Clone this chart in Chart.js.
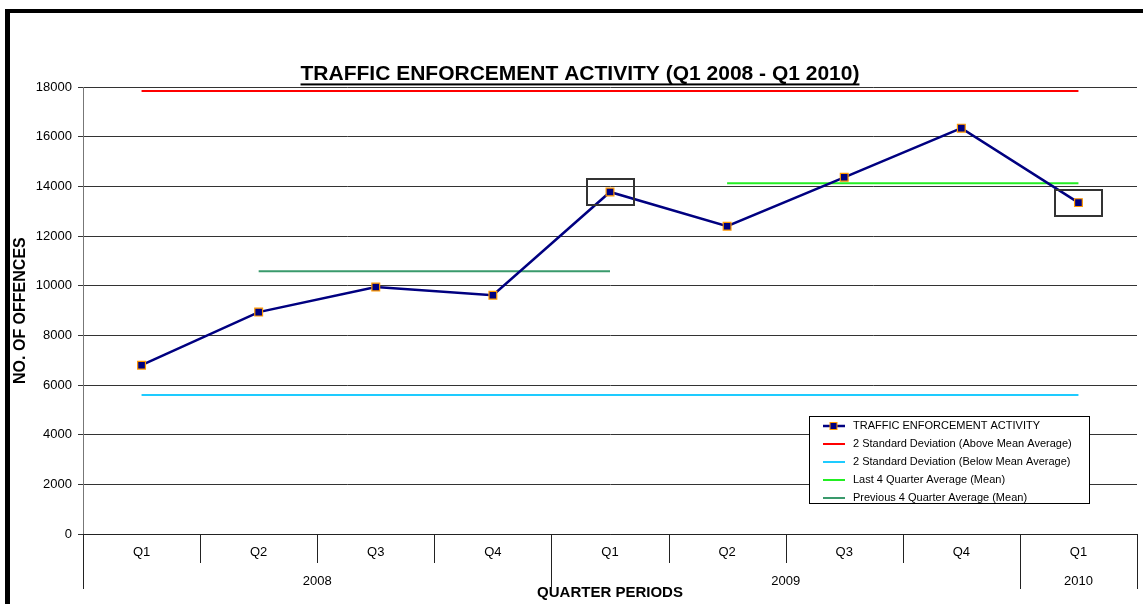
<!DOCTYPE html>
<html>
<head>
<meta charset="utf-8">
<script src="https://cdn.jsdelivr.net/npm/chart.js@4.4.0/dist/chart.umd.min.js"></script>
<style>
  html, body { margin: 0; padding: 0; background: #fff; overflow: hidden; }
  #wrap { position: relative; width: 1143px; height: 604px; overflow: hidden; background: #fff; }
  #chart { position: absolute; left: 0; top: 0; }
  #frame { position: absolute; left: 5px; top: 9px; width: 1200px; height: 700px;
           border-left: 5px solid #000; border-top: 4px solid #000; pointer-events: none; }
</style>
</head>
<body>
<div id="wrap">
  <canvas id="chart" width="1160" height="604"></canvas>
  <div id="frame"></div>
</div>
<script>
// x axis: quarter labels and the year each quarter falls in
const quarters = ['Q1', 'Q2', 'Q3', 'Q4', 'Q1', 'Q2', 'Q3', 'Q4', 'Q1'];
const years = ['2008', '2008', '2008', '2008', '2009', '2009', '2009', '2009', '2010'];

// offences recorded per quarter
const offences = [6800, 8940, 9950, 9620, 13780, 12400, 14370, 16350, 13350];

// reference lines
const upperLimit = [17850, 17850, 17850, 17850, 17850, 17850, 17850, 17850, 17850];
const lowerLimit = [5600, 5600, 5600, 5600, 5600, 5600, 5600, 5600, 5600];
const lastFourAvg = [null, null, null, null, null, 14130, 14130, 14130, 14130];
const prevFourAvg = [null, 10590, 10590, 10590, 10590, null, null, null, null];

// quarters picked out with a box
const boxedPoints = [4, 8];

// y axis ticks
const yMin = 0;
const yMax = 18000;
const yStep = 2000;

const FONT = '"Liberation Sans", Arial, sans-serif';
Chart.defaults.font.family = FONT;
Chart.defaults.color = '#000';

// centre the title on the outer frame and underline it
const titleUnderline = {
  id: 'titleUnderline',
  afterLayout(chart) {
    const t = chart.titleBlock;
    t.left += 23;
    t.width -= 23;
  },
  afterDraw(chart) {
    const t = chart.titleBlock;
    const opts = chart.options.plugins.title;
    const ctx = chart.ctx;
    ctx.save();
    ctx.font = 'bold ' + opts.font.size + 'px ' + FONT;
    const w = ctx.measureText(opts.text).width;
    const cx = (t.left + t.right) / 2;
    const cy = t.top + opts.padding.top + opts.font.size * 1.2 / 2;
    ctx.fillStyle = '#000';
    ctx.fillRect(cx - w / 2, cy + opts.font.size * 0.42, w, 2);
    ctx.restore();
  }
};

// two level category axis: quarter separators and year groups
const axisGroups = {
  id: 'axisGroups',
  afterDraw(chart) {
    const x = chart.scales.x;
    const ctx = chart.ctx;
    ctx.save();
    ctx.strokeStyle = '#222';
    ctx.lineWidth = 1;
    for (let i = 0; i <= quarters.length; i++) {
      const px = Math.round(x.getPixelForValue(i - 0.5)) + 0.5;
      const edge = i === 0 || i === quarters.length || years[i] !== years[i - 1];
      ctx.beginPath();
      ctx.moveTo(px, x.top);
      ctx.lineTo(px, x.top + (edge ? 55 : 29));
      ctx.stroke();
    }
    ctx.fillStyle = '#000';
    ctx.font = '13px ' + FONT;
    ctx.textAlign = 'center';
    ctx.textBaseline = 'middle';
    let start = 0;
    for (let i = 1; i <= years.length; i++) {
      if (i === years.length || years[i] !== years[start]) {
        const cx = (x.getPixelForValue(start - 0.5) + x.getPixelForValue(i - 0.5)) / 2;
        ctx.fillText(years[start], cx, x.top + 47);
        start = i;
      }
    }
    ctx.restore();
  }
};

// boxes round the highlighted quarters
const pointBoxes = {
  id: 'pointBoxes',
  afterDatasetsDraw(chart) {
    const meta = chart.getDatasetMeta(0);
    const ctx = chart.ctx;
    ctx.save();
    ctx.strokeStyle = '#333';
    ctx.lineWidth = 2;
    boxedPoints.forEach(i => {
      const p = meta.data[i];
      ctx.strokeRect(Math.round(p.x) - 23, Math.round(p.y) - 13, 47, 26);
    });
    ctx.restore();
  }
};

// legend box inside the plot, bottom right
const boxLegend = {
  id: 'boxLegend',
  afterDraw(chart) {
    const a = chart.chartArea;
    const ctx = chart.ctx;
    const w = 280, h = 87;
    const left = a.right - 48 - w;
    const top = a.bottom - 31 - h;
    ctx.save();
    ctx.fillStyle = '#fff';
    ctx.fillRect(left, top, w, h);
    ctx.strokeStyle = '#000';
    ctx.lineWidth = 1;
    ctx.strokeRect(left + 0.5, top + 0.5, w, h);
    ctx.font = '11px ' + FONT;
    ctx.textBaseline = 'middle';
    chart.data.datasets.forEach((ds, i) => {
      const y = Math.round(top + 9.5 + i * 18);
      ctx.strokeStyle = ds.borderColor;
      ctx.lineWidth = ds.borderWidth;
      ctx.beginPath();
      ctx.moveTo(left + 14, y);
      ctx.lineTo(left + 36, y);
      ctx.stroke();
      if (ds.pointRadius > 0) {
        ctx.fillStyle = ds.pointBackgroundColor;
        ctx.fillRect(left + 21, y - 3.5, 7, 7);
        ctx.strokeStyle = ds.pointBorderColor;
        ctx.lineWidth = 1;
        ctx.strokeRect(left + 21, y - 3.5, 7, 7);
      }
      ctx.fillStyle = '#000';
      ctx.fillText(ds.label, left + 44, y);
    });
    ctx.restore();
  }
};

const flat = { pointRadius: 0, pointHoverRadius: 0, borderWidth: 2, fill: false, tension: 0 };

new Chart(document.getElementById('chart'), {
  type: 'line',
  data: {
    labels: quarters,
    datasets: [
      {
        label: 'TRAFFIC ENFORCEMENT ACTIVITY',
        data: offences,
        borderColor: '#000080',
        borderWidth: 2.5,
        pointStyle: 'rect',
        pointRadius: 5.5,
        pointHoverRadius: 5.5,
        pointBackgroundColor: '#000080',
        pointBorderColor: '#FF9900',
        pointBorderWidth: 1.2,
        tension: 0
      },
      Object.assign({ label: '2 Standard Deviation (Above Mean Average)', data: upperLimit, borderColor: '#FF0000' }, flat),
      Object.assign({ label: '2 Standard Deviation (Below Mean Average)', data: lowerLimit, borderColor: '#1ECBFF' }, flat),
      Object.assign({ label: 'Last 4 Quarter Average (Mean)', data: lastFourAvg, borderColor: '#22EE22' }, flat),
      Object.assign({ label: 'Previous 4 Quarter Average (Mean)', data: prevFourAvg, borderColor: '#3A9A6C' }, flat)
    ]
  },
  options: {
    responsive: false,
    animation: false,
    devicePixelRatio: 1,
    layout: { padding: { left: 0, right: 23, top: 0, bottom: 0 } },
    plugins: {
      legend: { display: false },
      tooltip: { enabled: false },
      title: {
        display: true,
        text: 'TRAFFIC ENFORCEMENT ACTIVITY (Q1 2008 - Q1 2010)',
        color: '#000',
        font: { size: 21, weight: 'bold' },
        padding: { top: 62, bottom: 0 }
      }
    },
    scales: {
      x: {
        offset: true,
        grid: { display: false, drawTicks: false },
        border: { color: '#222', width: 1 },
        ticks: { color: '#000', font: { size: 13 }, padding: 11, maxRotation: 0 },
        title: {
          display: true,
          text: 'QUARTER PERIODS',
          color: '#000',
          font: { size: 15, weight: 'bold' },
          padding: { top: 0, bottom: 2 }
        },
        afterFit(s) { s.height = 70; }
      },
      y: {
        min: yMin,
        max: yMax,
        ticks: { stepSize: yStep, color: '#000', font: { size: 13 }, padding: 6, callback: v => String(v) },
        grid: { color: '#333', lineWidth: 1, tickLength: 5 },
        border: { color: '#777', width: 1 },
        title: {
          display: true,
          text: 'NO. OF OFFENCES',
          color: '#000',
          font: { size: 16, weight: 'bold' },
          padding: { top: 11, bottom: 0 }
        },
        afterFit(s) { s.width = 83; }
      }
    }
  },
  plugins: [titleUnderline, pointBoxes, axisGroups, boxLegend]
});
</script>
</body>
</html>
